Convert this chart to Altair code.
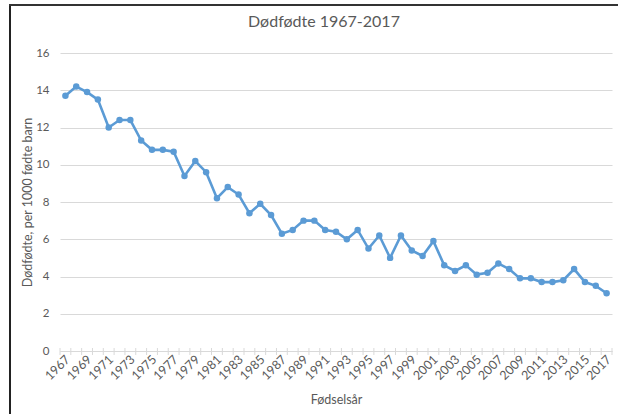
import altair as alt
import pandas as pd

years = list(range(1967, 2018))
values = [13.7, 14.2, 13.9, 13.5, 12.0, 12.4, 12.4, 11.3, 10.8, 10.8,
          10.7, 9.4, 10.2, 9.6, 8.2, 8.8, 8.4, 7.4, 7.9, 7.3,
          6.3, 6.5, 7.0, 7.0, 6.5, 6.4, 6.0, 6.5, 5.5, 6.2,
          5.0, 6.2, 5.4, 5.1, 5.9, 4.6, 4.3, 4.6, 4.1, 4.2,
          4.7, 4.4, 3.9, 3.9, 3.7, 3.7, 3.8, 4.4, 3.7, 3.5,
          3.1]
label_years = [y for y in years if (y - 1967) % 2 == 0]
y_ticks = [0, 2, 4, 6, 8, 10, 12, 14, 16]

title_text = "Dødfødte 1967-2017"
x_title = "Fødselsår"
y_title = "Dødfødte, per 1000 fødte barn"

df = pd.DataFrame({"year": years, "value": values})
bounds = pd.DataFrame({"year": [y - 0.5 for y in years] + [years[-1] + 0.5]})
one = pd.DataFrame({"t": [title_text]})

W, H = 552, 298
FONT = "Lato"
GRAY = "#595959"
BLUE = "#5B9BD5"

xscale = alt.Scale(domain=[years[0] - 0.5, years[-1] + 0.5], nice=False, zero=False)
yscale = alt.Scale(domain=[0, 16], nice=False)

x_axis = alt.Axis(values=label_years, format="d", labelAngle=315,
                  labelAlign="right", labelBaseline="middle",
                  labelPadding=6, labelOffset=2, ticks=False, grid=False,
                  domain=True, domainColor="#D9D9D9", domainWidth=1,
                  labelColor=GRAY, labelFont=FONT, labelFontSize=12.5,
                  labelOverlap=False, labelBound=False, labelFlush=False,
                  title=x_title, titleFont=FONT, titleFontSize=12.5,
                  titleFontWeight="normal", titleColor=GRAY,
                  titleX=W / 2, titleY=48, titleAlign="center",
                  titleBaseline="middle")
y_axis = alt.Axis(values=y_ticks, domain=False, ticks=False,
                  grid=True, gridColor="#D9D9D9", gridWidth=1,
                  labelColor=GRAY, labelFont=FONT, labelFontSize=11.5,
                  labelPadding=11, labelOverlap=False,
                  title=y_title, titleFont=FONT, titleFontSize=12.5,
                  titleFontWeight="normal", titleColor=GRAY,
                  titleAngle=270, titleX=-33, titleY=H / 2,
                  titleAlign="center", titleBaseline="middle")

ticks = alt.Chart(bounds).mark_rule(color="#D9D9D9", strokeWidth=1).encode(
    x=alt.X("year:Q", scale=xscale, axis=x_axis),
    y=alt.value(H - 3),
    y2=alt.value(H + 4),
)

line = alt.Chart(df).mark_line(
    color=BLUE, strokeWidth=2.6,
    point=alt.OverlayMarkDef(filled=True, color=BLUE, size=42, opacity=1),
).encode(
    x=alt.X("year:Q", scale=xscale, axis=x_axis),
    y=alt.Y("value:Q", scale=yscale, axis=y_axis),
)

title = alt.Chart(one).mark_text(font=FONT, fontSize=16, color=GRAY,
                                 align="center", baseline="middle").encode(
    text="t:N", x=alt.value(264), y=alt.value(-31),
)

left_border = alt.Chart(one).mark_rule(color="#222222", strokeWidth=2).encode(
    x=alt.value(-50), y=alt.value(-48), y2=alt.value(H + 70),
)
top_border = alt.Chart(one).mark_rule(color="#333333", strokeWidth=2).encode(
    x=alt.value(-51), x2=alt.value(W + 10), y=alt.value(-48),
)

chart = alt.layer(ticks, line, title, left_border, top_border).properties(
    width=W, height=H,
    background="white",
    autosize=alt.AutoSizeParams(type="none"),
    padding={"left": 60, "top": 53, "right": 6, "bottom": 63},
).configure_view(stroke=None)

chart.save("out.html", embed_options={"renderer": "svg", "actions": False})
